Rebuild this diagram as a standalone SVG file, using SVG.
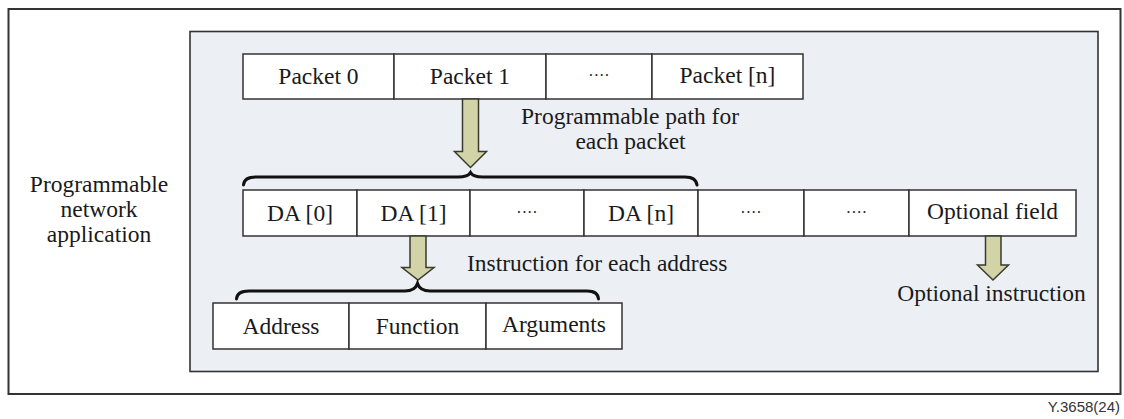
<svg xmlns="http://www.w3.org/2000/svg" width="1124" height="419" viewBox="0 0 1124 419">
  <style>
    .frame { fill: #ffffff; stroke: #333333; stroke-width: 2; }
    .panel { fill: #eceff4; stroke: #333333; stroke-width: 1.6; }
    .cell { fill: #ffffff; stroke: #333333; stroke-width: 1.5; }
    .lbl { font-family: "Liberation Serif", "Times New Roman", serif; font-size: 23.5px; fill: #1a1a1a; }
    .mid { text-anchor: middle; }
    .dots { font-family: "Liberation Serif", "Times New Roman", serif; font-size: 16px; fill: #1a1a1a; text-anchor: middle; }
    .arrow { fill: #d3d3a8; stroke: #3a3a30; stroke-width: 1.5; stroke-linejoin: miter; }
    .brace { fill: none; stroke: #111111; stroke-width: 3; stroke-linecap: round; }
    .tag { font-family: "Liberation Sans", Arial, sans-serif; font-size: 15px; fill: #333333; text-anchor: end; }
  </style>

  <!-- outer frame and shaded panel -->
  <rect class="frame" x="8.5" y="9" width="1112" height="385"/>
  <rect class="panel" x="190" y="31.5" width="908" height="340"/>

  <!-- application label -->
  <g id="app-label">
    <text class="lbl mid" x="99" y="192">Programmable</text>
    <text class="lbl mid" x="99" y="217">network</text>
    <text class="lbl mid" x="99" y="242">application</text>
  </g>

  <!-- packet row -->
  <g id="packet-0">
    <rect class="cell" x="243" y="54" width="151" height="45"/>
    <text class="lbl mid" x="318.5" y="84">Packet 0</text>
  </g>
  <g id="packet-1">
    <rect class="cell" x="394" y="54" width="152" height="45"/>
    <text class="lbl mid" x="470" y="84">Packet 1</text>
  </g>
  <g id="packet-dots">
    <rect class="cell" x="546" y="54" width="106" height="45"/>
    <text class="dots" x="599" y="81">····</text>
  </g>
  <g id="packet-n">
    <rect class="cell" x="652" y="54" width="151" height="45"/>
    <text class="lbl mid" x="727.5" y="83">Packet [n]</text>
  </g>

  <!-- destination address row -->
  <g id="da-0">
    <rect class="cell" x="243" y="190" width="114" height="46"/>
    <text class="lbl mid" x="300" y="221">DA [0]</text>
  </g>
  <g id="da-1">
    <rect class="cell" x="357" y="190" width="113" height="46"/>
    <text class="lbl mid" x="413.5" y="221">DA [1]</text>
  </g>
  <g id="da-dots">
    <rect class="cell" x="470" y="190" width="114" height="46"/>
    <text class="dots" x="527" y="218">····</text>
  </g>
  <g id="da-n">
    <rect class="cell" x="584" y="190" width="114" height="46"/>
    <text class="lbl mid" x="641" y="221">DA [n]</text>
  </g>
  <g id="da-dots-2">
    <rect class="cell" x="698" y="190" width="106" height="46"/>
    <text class="dots" x="751" y="218">····</text>
  </g>
  <g id="da-dots-3">
    <rect class="cell" x="804" y="190" width="105" height="46"/>
    <text class="dots" x="856.5" y="218">····</text>
  </g>
  <g id="optional-field">
    <rect class="cell" x="909" y="190" width="167" height="46"/>
    <text class="lbl mid" x="992.5" y="219">Optional field</text>
  </g>

  <!-- instruction row -->
  <g id="address">
    <rect class="cell" x="213" y="303" width="136" height="46"/>
    <text class="lbl mid" x="281" y="334">Address</text>
  </g>
  <g id="function">
    <rect class="cell" x="349" y="303" width="137" height="46"/>
    <text class="lbl mid" x="417.5" y="334">Function</text>
  </g>
  <g id="arguments">
    <rect class="cell" x="486" y="303" width="136" height="46"/>
    <text class="lbl mid" x="554" y="332">Arguments</text>
  </g>

  <!-- connectors: block arrows and braces -->
  <g id="connectors">
    <path class="arrow" d="M462.5,99 L478.5,99 L478.5,151.5 L486.5,151.5 L470.5,167.5 L454.5,151.5 L462.5,151.5 Z"/>
    <path class="brace" d="M243.5,185 Q244,177 256,177 L458,177 Q468,177 470.5,172.5 Q473,177 483,177 L685,177 Q696,177 697,185"/>

    <path class="arrow" d="M410,236 L426,236 L426,267.5 L434,267.5 L418,280 L402,267.5 L410,267.5 Z"/>
    <path class="brace" d="M236.5,299 Q237,291 249,291 L405,291 Q415,291 417.5,283.5 Q420,291 430,291 L587,291 Q598,291 598.5,299"/>

    <path class="arrow" d="M985.5,236 L1001,236 L1001,265 L1008.5,265 L993,280 L977.5,265 L985.5,265 Z"/>
  </g>

  <!-- connector labels -->
  <g id="arrow-labels">
    <text class="lbl mid" x="630" y="124">Programmable path for</text>
    <text class="lbl mid" x="630.5" y="149">each packet</text>
    <text class="lbl" x="467" y="271">Instruction for each address</text>
    <text class="lbl mid" x="991.5" y="301">Optional instruction</text>
  </g>

  <text class="tag" x="1120" y="412">Y.3658(24)</text>
</svg>
